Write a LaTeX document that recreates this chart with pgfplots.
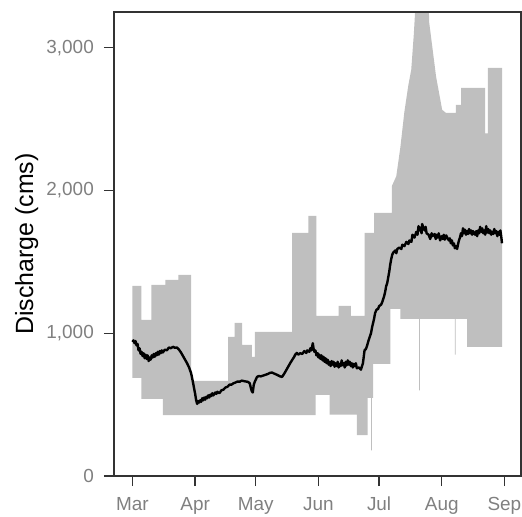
\documentclass[border=0pt]{standalone}
\usepackage{pgfplots}
\pgfplotsset{compat=1.18}
\usepackage{fontspec}
\setmainfont{Liberation Sans}
\definecolor{band}{RGB}{191,191,191}
\definecolor{ticklab}{RGB}{128,128,128}
\definecolor{axline}{RGB}{51,51,51}
\begin{document}
\begin{tikzpicture}
\begin{axis}[
  at={(0,0)}, anchor=south west,
  scale only axis, width=407bp, height=464bp,
  xmin=-9.15, xmax=192.2, ymin=0, ymax=3250,
  xtick={0,31,61,92,122,153,184},
  xticklabels={Mar,Apr,May,Jun,Jul,Aug,Sep},
  ytick={0,1000,2000,3000},
  yticklabels={0,{1,000},{2,000},{3,000}},
  tick align=outside, xtick pos=bottom, ytick pos=left,
  major tick length=10bp,
  every tick/.style={axline, line width=1.4bp},
  axis line style={axline, line width=1.2bp},
  /pgf/number format/assume math mode=true,
  tick label style={font=\fontsize{19}{22}\selectfont, text=ticklab, inner sep=0pt},
  xticklabel style={anchor=north, yshift=-11bp},
  yticklabel style={anchor=east, xshift=-10bp},
  ylabel={Discharge (cms)},
  ylabel style={font=\fontsize{25}{30}\selectfont, at={(axis description cs:-0.199,0.5)}, anchor=base, inner sep=0pt},
  clip=true,
]
% min-max ribbon
\addplot[fill=band, draw=none] coordinates {
(0,1332) (4.4,1332) (4.4,1093) (9.4,1093) (9.4,1338) (16.3,1338) (16.3,1373) (22.7,1373) (22.7,1408) (29,1408)
(29,666) (47.3,666) (47.3,975) (50.5,975) (50.5,1072) (54.2,1072) (54.2,918) (59,918) (59,834) (60.5,834)
(60.5,1009) (79,1009) (79,1703) (87,1703) (87,1822) (91,1822) (91,1121) (102,1121) (102,1191) (108,1191)
(108,1121) (114.8,1121) (114.8,1703) (119.5,1703) (119.5,1843) (128.3,1843) (128.3,2030) (130.5,2100)
(132.5,2300) (134.5,2550) (136.5,2740) (137.9,2845) (139.2,3100) (140.4,3400) (146.3,3400) (146.8,3175) (150.2,2796)
(153.2,2565) (155,2544) (160,2544) (160,2600) (162.6,2600) (162.6,2719) (174.4,2719) (174.4,2400)
(175.8,2400) (175.8,2859) (182.8,2859)
(182.8,904) (165.5,904) (165.5,1100) (159.9,1100) (159.9,850) (159.5,850) (159.5,1100)
(142.2,1100) (142.2,600) (141.8,600) (141.8,1100) (132.5,1100) (132.5,1170) (127.6,1170) (127.6,785)
(119,785) (119,547) (118.4,547) (118.4,180) (118,180) (118,547) (116.3,547) (116.3,287) (111,287)
(111,430) (97.5,430) (97.5,568) (90.6,568) (90.6,427) (15,427) (15,540) (4.4,540) (4.4,687) (0,687)
} -- cycle;
% median line
\addplot[black, line width=2.4bp, line join=round] coordinates {
(0,939) (0.5,950) (1,930) (1.5,945) (2,915) (2.5,925) (3,880) (3.5,895) (4,855) (4.5,870) (5,840) (5.5,860)
(6,825) (6.5,850) (7,820) (7.5,845) (8,805) (8.5,830) (9,815) (9.5,845) (10,830) (10.5,855) (11,835)
(11.5,860) (12,845) (12.5,870) (13,850) (13.5,875) (14,860) (14.5,880) (15,865) (16,885) (17,880)
(18,900) (19,895) (20,905) (21,898) (22,900) (23,885) (24,865) (25,840) (26,815) (27,790) (28,760)
(29,720) (30,650) (31,575) (31.5,530) (32,505) (32.5,525) (33,515) (33.5,530) (34,520) (34.5,545)
(35,530) (35.5,550) (36,535) (36.5,555) (37,545) (37.5,565) (38,550) (38.5,570) (39,560) (39.5,580)
(40,565) (41,585) (41.5,575) (42,590) (43,580) (44,600) (45,605) (46,620) (47,625) (48,640) (49,640)
(50,650) (51,655) (52,662) (53,660) (54,668) (55,665) (56,662) (57,660) (58,650) (58.5,620) (59,595)
(59.5,585) (60,640) (60.5,660) (61.6,694) (62.5,700) (63.5,698) (65,705) (66,710) (67,715) (68,722)
(69,725) (70,718) (71,712) (72,705) (73,698) (74,694) (74.5,705) (75,715) (76,740) (77,765) (78,790)
(79,813) (80,835) (80.5,850) (81.3,862) (82,850) (83,860) (84,855) (85,875) (86,862) (86.5,880)
(87.5,870) (88,895) (88.5,880) (89.2,930) (89.6,890) (90,870) (90.5,880) (91,845) (91.6,860) (92,830)
(92.5,850) (93,820) (93.5,845) (94,810) (94.5,835) (95,800) (95.5,825) (96,790) (96.5,815) (97,780)
(97.5,800) (98,770) (98.5,805) (99,780) (99.5,800) (100,765) (100.5,790) (101,770) (101.5,800)
(102,760) (102.5,785) (103,770) (103.5,810) (104,775) (104.5,790) (105,760) (105.5,800) (106,775)
(106.5,810) (107,780) (107.5,800) (108,770) (108.5,790) (109,760) (109.5,785) (110,770) (110.5,790)
(111,755) (112,760) (113,745) (114,790) (114.8,880) (115.5,890) (116,910) (116.8,950) (117.5,980)
(118,1000) (118.5,1040) (119,1070) (119.5,1100) (120,1140) (120.7,1165) (121.5,1170) (122,1190)
(123,1200) (123.6,1220) (124.5,1260) (125,1290) (125.5,1330) (126,1350) (126.5,1390) (127,1430)
(127.5,1480) (128,1520) (128.5,1550) (129,1565) (130,1580) (130.5,1560) (131,1590) (132,1600)
(133,1590) (133.5,1620) (134.5,1610) (135.5,1640) (136.5,1625) (137,1650) (138,1640) (138.5,1690)
(139.5,1670) (140.4,1710) (141,1690) (141.5,1750) (142,1720) (142.5,1740) (143,1700) (143.3,1765)
(144,1735) (144.5,1720) (145,1745) (145.5,1700) (146.5,1690) (147.3,1660) (148,1700) (148.5,1680)
(149.5,1695) (150,1660) (150.5,1690) (151,1670) (151.5,1700) (152.2,1650) (153,1680) (153.5,1660)
(154,1690) (154.5,1655) (155.2,1685) (155.7,1670) (156.5,1650) (157,1665) (157.5,1630) (158,1650)
(158.5,1615) (159,1630) (159.5,1595) (160,1610) (160.6,1590) (161,1620) (161.5,1650) (162,1670)
(162.5,1700) (163,1680) (163.5,1735) (164,1700) (164.5,1725) (165,1690) (165.5,1715) (166,1695)
(166.5,1730) (167,1700) (167.5,1720) (168,1690) (168.5,1715) (169,1700) (169.5,1690) (170,1715)
(170.5,1680) (171,1720) (171.5,1700) (172,1745) (172.5,1710) (173,1735) (173.5,1700) (174,1720)
(174.5,1690) (175,1750) (175.5,1705) (176,1730) (176.5,1700) (177,1720) (177.5,1690) (178,1710)
(178.5,1695) (179,1730) (179.5,1700) (180,1715) (180.5,1680) (181,1710) (181.5,1690) (182,1720)
(182.4,1680) (182.8,1630)
};
\end{axis}
\draw[axline, line width=1.2bp] (0,464bp) -- (407bp,464bp) -- (407bp,0);
\path (-114bp,-41bp) rectangle (408bp,476bp);
\end{tikzpicture}
\end{document}
